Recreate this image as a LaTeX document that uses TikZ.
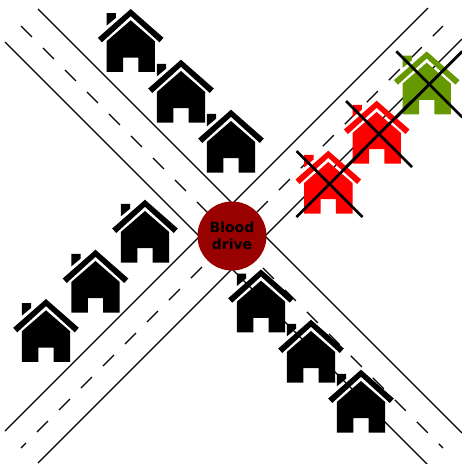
\documentclass[tikz,border=0pt]{standalone}
\usepackage{fontspec}
\setmainfont{DejaVu Sans}
\definecolor{bdRed}{HTML}{FF0000}
\definecolor{bdGreen}{HTML}{669900}
\definecolor{bdDrive}{HTML}{990000}
\tikzset{
  bd road/.style={draw=black, line width=1.2pt},
  bd dash/.style={draw=black, line width=1.2pt, dash pattern=on 15.5pt off 15.6pt},
  bd cross/.style={draw=black, line width=2.8pt},
  bd drive/.style={circle, fill=bdDrive, minimum size=69pt, inner sep=0pt, align=center, text=black, font=\fontsize{14}{17}\selectfont\bfseries},
  bd house/.pic={
    \fill[pic actions] (0,-0.3) -- (32.8,28.5) -- (28.8,33) -- (0,6.8) -- (-28.8,33) -- (-32.8,28.5) -- cycle;
    \fill[pic actions] (0,11) -- (24.2,32) -- (24.2,62.6) -- (7.6,62.6) -- (7.6,48.2) -- (-7.6,48.2)
      -- (-7.6,62.6) -- (-24.2,62.6) -- (-24.2,32) -- cycle;
    \fill[pic actions] (-24.2,3.8) -- (-14.8,3.8) -- (-14.8,8.6) -- (-24.2,16.4) -- cycle;
  },
}

\begin{document}
\begin{tikzpicture}[x=1pt, y=-1pt]
  \useasboundingbox (0,0) rectangle (462,464);
  % Road edges
  \draw[bd road] (38,9) -- (462,433);
  \draw[bd road] (5,42) -- (428,465);
  \draw[bd road] (5,431) -- (428,8);
  \draw[bd road] (38,463) -- (462,39);
  % Centre lines
  \draw[bd dash] (21,26) -- (443,448);
  \draw[bd dash, dash phase=8.5pt] (21,448) -- (443,26);
  \node[bd drive] (drive) at (232,236) {Blood\\drive};
  % Houses along the roads
  \foreach \hx/\hy in {130.7/9.3, 181/60, 231/110, 145/200, 95.5/250, 46/299.3, 261/269.7, 311/320, 361/370}
    \pic[fill=black] at (\hx,\hy) {bd house};
  \pic[fill=bdRed] at (328.3,151) {bd house};
  \pic[fill=bdRed] at (376.7,101) {bd house};
  \pic[fill=bdGreen] at (426.7,51.7) {bd house};
  % Crossed out houses
  \foreach \cx/\cy in {329.5/184, 379/134, 429.3/84.3} {
    \draw[bd cross] (\cx-33,\cy-33) -- (\cx+33,\cy+33);
    \draw[bd cross] (\cx-33,\cy+33) -- (\cx+33,\cy-33);
  }
\end{tikzpicture}
\end{document}
